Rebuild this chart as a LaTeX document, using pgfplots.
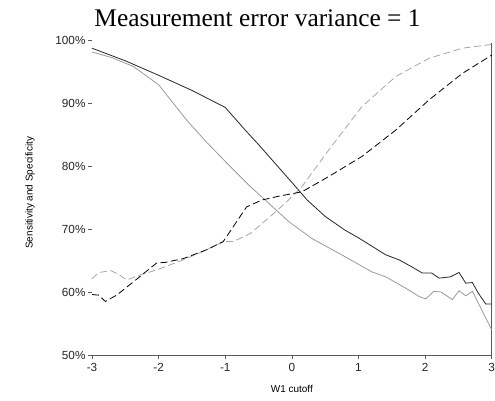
\documentclass[border=0pt]{standalone}
\usepackage{fontspec}
\setmainfont{Liberation Sans}
\newfontfamily\titlefont{Liberation Serif}
\usepackage{pgfplots}
\pgfplotsset{compat=1.18}
\definecolor{darkline}{gray}{0.15}
\definecolor{lightline}{gray}{0.6}
\definecolor{lightdash}{gray}{0.65}
\definecolor{axiscol}{gray}{0.35}
\begin{document}
\begin{tikzpicture}
\useasboundingbox (0,0) rectangle (495bp,401bp);
\begin{axis}[
  at={(92bp,46bp)}, anchor=south west,
  scale only axis, width=399.7bp, height=315bp,
  xmin=-3, xmax=3, ymin=50, ymax=100,
  axis line style={draw=none},
  xtick={-3,-2,-1,0,1,2,3},
  xticklabels={-3,-2,-1,0,1,2,3},
  ytick={50,60,70,80,90,100},
  yticklabels={50\%,60\%,70\%,80\%,90\%,100\%},
  tick align=outside, xtick pos=bottom, ytick pos=left,
  major tick length=4bp,
  tick style={draw=axiscol, line width=0.6bp},
  ticklabel style={font=\fontsize{11.8}{13}\selectfont, text=black!85},
  yticklabel style={xshift=1bp},
  xticklabel style={yshift=-1bp},
  xlabel={W1 cutoff},
  ylabel={Sensitivity and Specificity},
  label style={font=\fontsize{9.7}{11}\selectfont},
  every axis x label/.style={at={(axis description cs:0.5,-0.108)}, anchor=center},
  every axis y label/.style={at={(axis description cs:-0.155,0.515)}, rotate=90, anchor=center},
  clip=false,
]
\draw[axiscol, line width=0.7bp] (rel axis cs:0,0) -- (rel axis cs:1,0) -- (rel axis cs:1,0.99);
% light solid
\addplot[lightline, line width=0.8bp] coordinates {
(-3,98.1) (-2.7,97.2) (-2.38,95.8) (-2,92.9) (-1.58,87.3) (-1.3,84.0) (-0.97,80.4) (-0.62,76.7) (-0.4,74.6) (-0.05,71.2) (0.3,68.5) (0.8,65.6) (1.2,63.2) (1.41,62.4) (1.71,60.6) (1.91,59.3) (2.01,58.9) (2.13,60.1) (2.24,60.0) (2.41,58.8) (2.51,60.2) (2.61,59.4) (2.71,60.1) (2.89,56.3) (3.0,54.0)
};
% light dashed
\addplot[lightdash, line width=0.8bp, dash pattern=on 7bp off 3.5bp] coordinates {
(-3,62.1) (-2.9,63.1) (-2.83,63.2) (-2.72,63.4) (-2.6,62.8) (-2.48,61.9) (-2.28,62.7) (-2.03,63.5) (-1.63,65.1) (-1.28,66.7) (-1.03,68.0) (-0.88,68.0) (-0.62,69.3) (-0.3,72.2) (-0.05,74.6) (0.15,76.7) (0.55,82.5) (1.05,89.4) (1.56,94.2) (2.06,97.1) (2.56,98.7) (3,99.3)
};
% dark dashed
\addplot[black, line width=0.8bp, dash pattern=on 7bp off 3.5bp] coordinates {
(-3,59.6) (-2.9,59.5) (-2.8,58.5) (-2.63,59.5) (-2.38,61.6) (-2.03,64.6) (-1.9,64.7) (-1.63,65.3) (-1.28,66.7) (-1.03,68.0) (-0.68,73.5) (-0.45,74.6) (-0.2,75.2) (0.15,75.9) (0.55,78.3) (1.05,81.5) (1.56,85.7) (2.06,90.5) (2.56,94.7) (3,97.6)
};
% dark solid
\addplot[darkline, line width=0.8bp] coordinates {
(-3,98.7) (-2.5,96.7) (-2,94.4) (-1.5,92.0) (-1,89.3) (-0.7,85.7) (-0.5,83.4) (0,77.4) (0.23,74.6) (0.5,72.0) (0.8,69.8) (1.0,68.6) (1.41,65.9) (1.61,65.1) (1.8,64.0) (1.96,63.0) (2.1,63.0) (2.21,62.2) (2.38,62.4) (2.51,63.1) (2.61,61.4) (2.71,61.5) (2.8,59.8) (2.91,58.1) (3,58.1)
};
\end{axis}
\node[anchor=base, font=\titlefont\fontsize{25.5}{28}\selectfont] at (257.5bp,374bp) {Measurement error variance = 1};
\end{tikzpicture}
\end{document}
